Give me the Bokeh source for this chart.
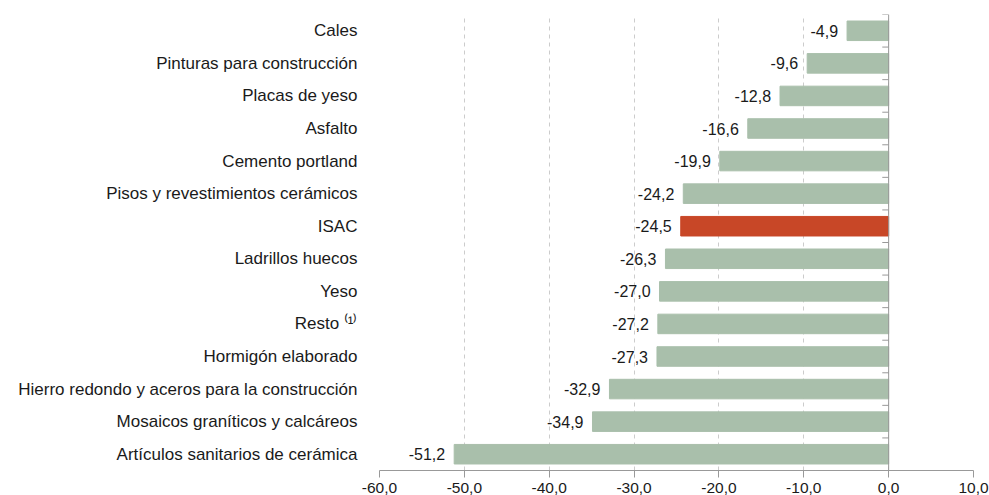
from bokeh.plotting import figure
from bokeh.models import ColumnDataSource, Range1d, FixedTicker, Span
from bokeh.embed import file_html
from bokeh.resources import INLINE
from bokeh.core.properties import value

categories = [
    "Cales",
    "Pinturas para construcción",
    "Placas de yeso",
    "Asfalto",
    "Cemento portland",
    "Pisos y revestimientos cerámicos",
    "ISAC",
    "Ladrillos huecos",
    "Yeso",
    "Resto ⁽¹⁾",
    "Hormigón elaborado",
    "Hierro redondo y aceros para la construcción",
    "Mosaicos graníticos y calcáreos",
    "Artículos sanitarios de cerámica",
]
values = [-4.9, -9.6, -12.8, -16.6, -19.9, -24.2, -24.5, -26.3, -27.0, -27.2, -27.3, -32.9, -34.9, -51.2]
x_ticks = [-60, -50, -40, -30, -20, -10, 0, 10]

GREEN = "#a9bfab"
RED = "#c84727"
FONT = "Liberation Sans"

n = len(categories)
ys = [n - 1 - i for i in range(n)]
colors = [RED if c == "ISAC" else GREEN for c in categories]
labels = [f"{v:.1f}".replace(".", ",") for v in values]

src = ColumnDataSource(dict(y=ys, v=values, color=colors, label=labels, zero=[0] * n))

p = figure(width=989, height=495, output_backend="svg", toolbar_location=None,
           x_range=Range1d(-60, 10), y_range=Range1d(-0.5, n - 0.5),
           min_border_left=379, min_border_top=14, min_border_right=16, min_border_bottom=0)
p.outline_line_color = None
p.background_fill_color = "white"

p.hbar(y="y", left="v", right="zero", height=0.6, color="color", source=src)
p.text(x="v", y="y", text="label", source=src, text_align="right", text_baseline="middle",
       x_offset=-9, text_font=value(FONT), text_font_size="16px", text_color="#1a1a1a")

# zero line with ticks at category boundaries
p.add_layout(Span(location=0, dimension="height", line_color="#999999", line_width=1))
bounds = [i + 0.5 for i in range(-1, n)]
p.segment(x0=[-0.75] * len(bounds), x1=[0] * len(bounds), y0=bounds, y1=bounds,
          line_color="#999999", line_width=1)

# x axis
p.xaxis.ticker = FixedTicker(ticks=x_ticks)
p.xaxis.major_label_overrides = {t: f"{t:.1f}".replace(".", ",") for t in x_ticks}
p.xaxis.major_label_text_font = FONT
p.xaxis.major_label_text_font_size = "15.5px"
p.xaxis.major_label_text_color = "#1a1a1a"
p.xaxis.axis_line_color = "#999999"
p.xaxis.major_tick_line_color = "#999999"
p.xaxis.major_tick_out = 7
p.xaxis.major_tick_in = 0
p.xaxis.minor_tick_line_color = None
p.xaxis.major_label_standoff = 5

# y axis
p.yaxis.ticker = FixedTicker(ticks=ys)
p.yaxis.major_label_overrides = {y: c for y, c in zip(ys, categories)}
p.yaxis.major_label_text_font = FONT
p.yaxis.major_label_text_font_size = "17px"
p.yaxis.major_label_text_color = "#1a1a1a"
p.yaxis.axis_line_color = None
p.yaxis.major_tick_line_color = None
p.yaxis.minor_tick_line_color = None
p.yaxis.major_label_standoff = 16

p.xgrid.ticker = FixedTicker(ticks=x_ticks)
p.xgrid.grid_line_color = "#cccccc"
p.xgrid.grid_line_dash = "4 4"
p.ygrid.grid_line_color = None

open("out.html", "w").write(file_html(p, INLINE))
